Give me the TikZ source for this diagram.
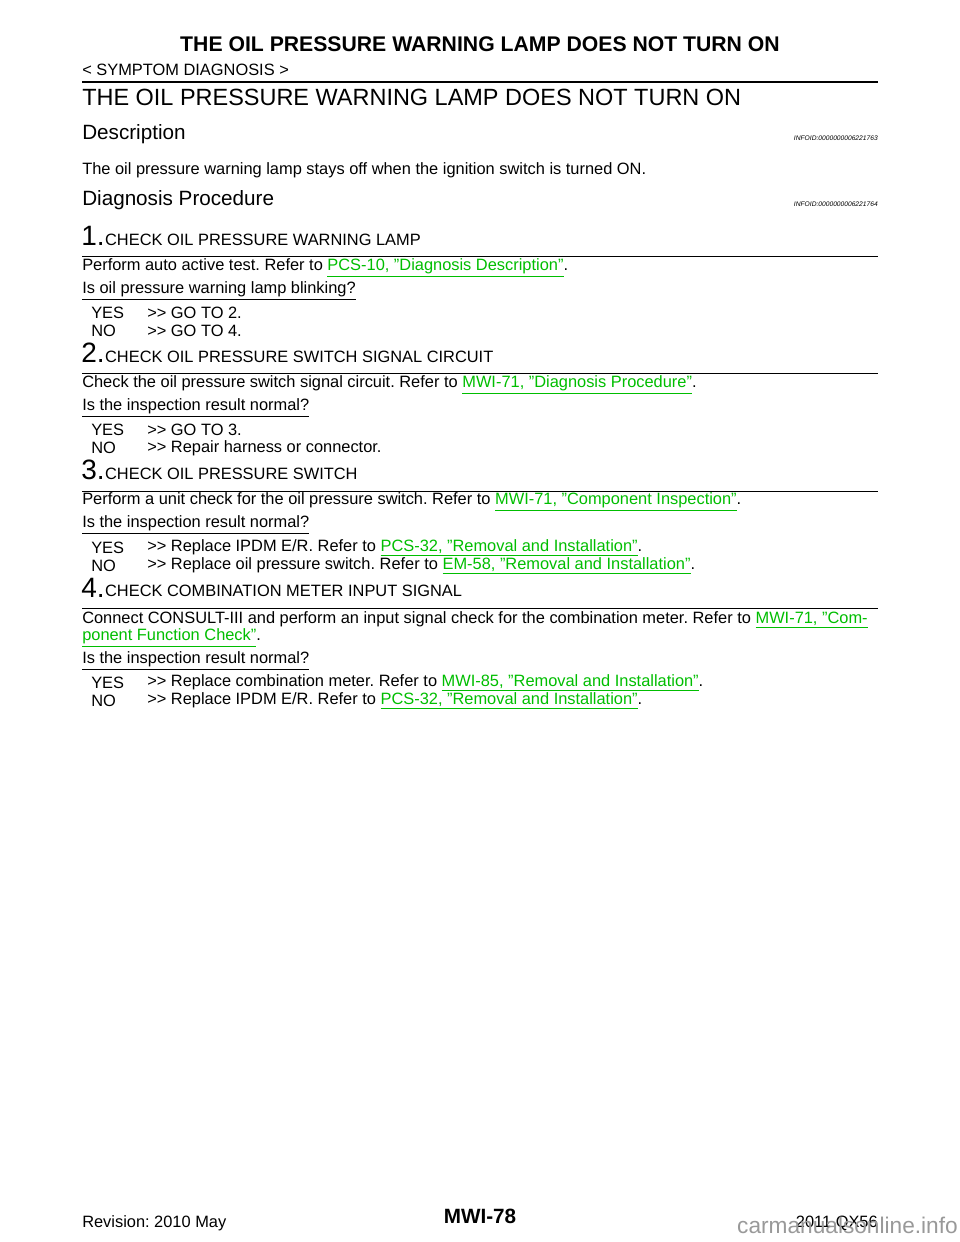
\documentclass[tikz,border=0pt]{standalone}
\usepackage{fontspec}
\setmainfont{Liberation Sans}
\definecolor{lnk}{RGB}{0,190,0}
\newcommand{\lk}[1]{\textcolor{lnk}{\underline{#1}}}
\newcommand{\qq}{\char34{}}
\newcommand{\gtgt}{{>}{>}}
\frenchspacing
\begin{document}
\begin{tikzpicture}[x=0.75pt,y=-0.75pt,
  tx/.style={anchor=west,inner sep=0pt,font=\fontsize{12.3}{14}\selectfont},
  hd/.style={anchor=west,inner sep=0pt,font=\fontsize{12.3}{14}\selectfont},
  num/.style={anchor=west,inner sep=0pt,font=\fontsize{21}{23}\selectfont},
  info/.style={anchor=east,inner sep=0pt,font=\fontsize{5}{6}\itshape},
  rl/.style={line width=0.7pt}]
\useasboundingbox (0,0) rectangle (960,1242);
\fill[white] (0,0) rectangle (960,1242);
\node[inner sep=0pt,font=\fontsize{15.9}{17}\bfseries\selectfont] (t) at (480,44) {THE OIL PRESSURE WARNING LAMP DOES NOT TURN ON};
\node[tx] (s) at (82,70) {< SYMPTOM DIAGNOSIS >};
\draw[line width=1.6pt] (82,82) -- (878,82);
\node[anchor=west,inner sep=0pt,font=\fontsize{17.6}{20}\selectfont] (h) at (82,97) {THE OIL PRESSURE WARNING LAMP DOES NOT TURN ON};
\node[anchor=west,inner sep=0pt,font=\fontsize{15.5}{17}\selectfont] (d) at (82,134) {Description};
\node[info] (i1) at (878,138) {INFOID:0000000006221763};
\node[tx] (b) at (82,170) {The oil pressure warning lamp stays off when the ignition switch is turned ON.};
\node[anchor=west,inner sep=0pt,font=\fontsize{15.5}{17}\selectfont] (dp) at (82,200) {Diagnosis Procedure};
\node[info] (i2) at (878,204) {INFOID:0000000006221764};
% step 1
\node[num] (n1) at (81,236) {1.};
\node[hd] (c1) at (n1.east |- 0,240) {CHECK OIL PRESSURE WARNING LAMP};
\draw[rl] (82,256) -- (878,256);
\node[tx] (p1) at (82,268) {Perform auto active test. Refer to \lk{PCS-10, \qq Diagnosis Description\qq}.};
\node[tx] (q1) at (82,291) {\underline{Is oil pressure warning lamp blinking?}};
\node[tx] (y1) at (91,313) {YES};\node[tx] (y1a) at (147,313) {\gtgt\ GO TO 2.};
\node[tx] (o1) at (91,331) {NO};\node[tx] (o1a) at (147,331) {\gtgt\ GO TO 4.};
% step 2
\node[num] (n2) at (81,353) {2.};
\node[hd] (c2) at (n2.east |- 0,357) {CHECK OIL PRESSURE SWITCH SIGNAL CIRCUIT};
\draw[rl] (82,373) -- (878,373);
\node[tx] (p2) at (82,385) {Check the oil pressure switch signal circuit. Refer to \lk{MWI-71, \qq Diagnosis Procedure\qq}.};
\node[tx] (q2) at (82,408) {\underline{Is the inspection result normal?}};
\node[tx] (y2) at (91,430) {YES};\node[tx] (y2a) at (147,430) {\gtgt\ GO TO 3.};
\node[tx] (o2) at (91,448) {NO};\node[tx] (o2a) at (147,448) {\gtgt\ Repair harness or connector.};
% step 3
\node[num] (n3) at (81,470) {3.};
\node[hd] (c3) at (n3.east |- 0,474) {CHECK OIL PRESSURE SWITCH};
\draw[rl] (82,491) -- (878,491);
\node[tx] (p3) at (82,502) {Perform a unit check for the oil pressure switch. Refer to \lk{MWI-71, \qq Component Inspection\qq}.};
\node[tx] (q3) at (82,525) {\underline{Is the inspection result normal?}};
\node[tx] (y3) at (91,548) {YES};\node[tx] (y3a) at (147,548) {\gtgt\ Replace IPDM E/R. Refer to \lk{PCS-32, \qq Removal and Installation\qq}.};
\node[tx] (o3) at (91,566) {NO};\node[tx] (o3a) at (147,566) {\gtgt\ Replace oil pressure switch. Refer to \lk{EM-58, \qq Removal and Installation\qq}.};
% step 4
\node[num] (n4) at (81,588) {4.};
\node[hd] (c4) at (n4.east |- 0,591) {CHECK COMBINATION METER INPUT SIGNAL};
\draw[rl] (82,608) -- (878,608);
\node[tx] (p4) at (82,620) {Connect CONSULT-III and perform an input signal check for the combination meter. Refer to \lk{MWI-71, \qq Com-}};
\node[tx] (p4b) at (82,638) {\lk{ponent Function Check\qq}.};
\node[tx] (q4) at (82,661) {\underline{Is the inspection result normal?}};
\node[tx] (y4) at (91,683) {YES};\node[tx] (y4a) at (147,683) {\gtgt\ Replace combination meter. Refer to \lk{MWI-85, \qq Removal and Installation\qq}.};
\node[tx] (o4) at (91,701) {NO};\node[tx] (o4a) at (147,701) {\gtgt\ Replace IPDM E/R. Refer to \lk{PCS-32, \qq Removal and Installation\qq}.};
% footer
\node[tx] (f1) at (82,1223) {Revision: 2010 May};
\node[inner sep=0pt,font=\fontsize{15.5}{17}\bfseries\selectfont] (f2) at (480,1216) {MWI-78};
\node[tx,anchor=east] (f3) at (878,1223) {2011 QX56};
\node[inner sep=0pt,anchor=east,text=black!40,font=\fontsize{17}{18}\selectfont] (wm) at (958,1225) {carmanualsonline.info};
\end{tikzpicture}
\end{document}
